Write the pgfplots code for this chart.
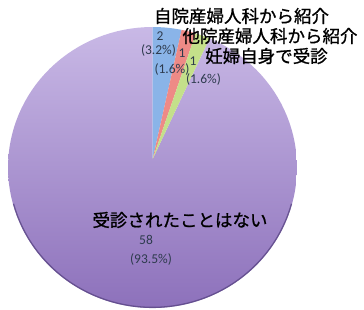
\documentclass[border=0pt]{standalone}
\usepackage{pgfplots}
\pgfplotsset{compat=1.18}
\usepackage{fontspec}
\setmainfont{Carlito}
\newfontfamily\jp[FakeBold=1]{Noto Sans CJK JP}
\definecolor{cblue}{HTML}{8AB4E8}
\definecolor{cred}{HTML}{EE8A86}
\definecolor{cgreen}{HTML}{C4E08A}
\definecolor{cpurpT}{HTML}{C9B9E6}
\definecolor{cpurpB}{HTML}{8D71BB}
\definecolor{crim}{HTML}{5B4785}
\definecolor{vlab}{HTML}{2E3B4E}
% data
\def\va{2}\def\vb{1}\def\vc{1}\def\vd{58}
\pgfmathsetmacro{\tot}{\va+\vb+\vc+\vd}
\pgfmathsetmacro{\aA}{90}
\pgfmathsetmacro{\aB}{90-360/\tot*\va}
\pgfmathsetmacro{\aC}{\aB-360/\tot*\vb}
\pgfmathsetmacro{\aD}{\aC-360/\tot*\vc}
\pgfmathsetmacro{\aE}{\aD-360/\tot*\vd}
\def\cx{152.5}\def\cy{142.5}\def\rx{144.5}\def\ry{140.5}
\def\px{152.7}\def\py{151}
\begin{document}
\begin{tikzpicture}
\begin{axis}[width=364pt,height=310pt,scale only axis,
  xmin=0,xmax=364,ymin=0,ymax=310,hide axis,clip=false]
\path (axis cs:0,0) rectangle (axis cs:364,310);
\addplot[draw=none,top color=cpurpT,bottom color=cpurpB,domain=\aE:\aD,samples=120]
  ({\cx+\rx*cos(x)},{\cy+\ry*sin(x)}) -- (axis cs:\px,\py) -- cycle;
\addplot[draw=none,fill=cblue,domain=\aB:\aA,samples=10]
  ({\cx+\rx*cos(x)},{\cy+\ry*sin(x)}) -- (axis cs:\px,\py) -- cycle;
\addplot[draw=none,fill=cred,domain=\aC:\aB,samples=10]
  ({\cx+\rx*cos(x)},{\cy+\ry*sin(x)}) -- (axis cs:\px,\py) -- cycle;
\addplot[draw=none,fill=cgreen,domain=\aD:\aC,samples=10]
  ({\cx+\rx*cos(x)},{\cy+\ry*sin(x)}) -- (axis cs:\px,\py) -- cycle;
\addplot[crim,line width=1.3pt,opacity=0.8,domain=195:345,samples=60]
  ({\cx+(\rx-0.6)*cos(x)},{\cy+(\ry-0.6)*sin(x)});
% category labels
\node[font=\jp\fontsize{17.5}{18}\selectfont,anchor=center] at (axis cs:241.5,294) {自院産婦人科から紹介};
\node[font=\jp\fontsize{17.5}{18}\selectfont,anchor=center] at (axis cs:270,274) {他院産婦人科から紹介};
\node[font=\jp\fontsize{17.5}{18}\selectfont,anchor=center] at (axis cs:266.5,254) {妊婦自身で受診};
\node[font=\jp\fontsize{17.5}{18}\selectfont,anchor=center] at (axis cs:180,90) {受診されたことはない};
% value labels
\node[font=\fontsize{13.5}{14}\selectfont,text=vlab] at (axis cs:160,274) {2};
\node[font=\fontsize{13.5}{14}\selectfont,text=vlab] at (axis cs:158.5,259) {(3.2\%)};
\node[font=\fontsize{13.5}{14}\selectfont,text=vlab] at (axis cs:182,257) {1};
\node[font=\fontsize{13.5}{14}\selectfont,text=vlab] at (axis cs:172,240) {(1.6\%)};
\node[font=\fontsize{13.5}{14}\selectfont,text=vlab] at (axis cs:193,249) {1};
\node[font=\fontsize{13.5}{14}\selectfont,text=vlab] at (axis cs:203.5,230) {(1.6\%)};
\node[font=\fontsize{13.5}{14}\selectfont,text=vlab] at (axis cs:146,70) {58};
\node[font=\fontsize{13.5}{14}\selectfont,text=vlab] at (axis cs:151,50) {(93.5\%)};
\end{axis}
\end{tikzpicture}
\end{document}
